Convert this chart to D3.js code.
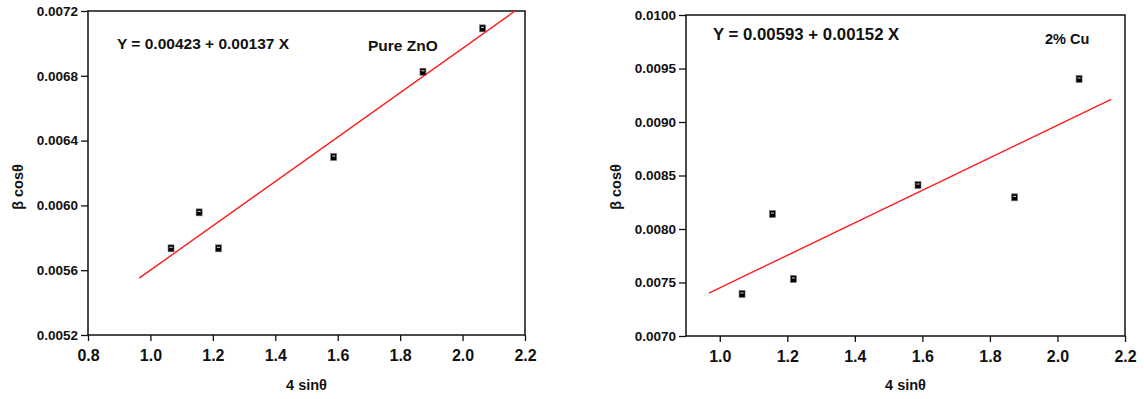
<!DOCTYPE html>
<html>
<head>
<meta charset="utf-8">
<script src="https://cdn.jsdelivr.net/npm/d3@7"></script>
<style>
  body { margin: 0; background: #fff; }
  svg { display: block; }
  text { font-family: "Liberation Sans", Arial, Helvetica, sans-serif; font-weight: bold; fill: #111; }
</style>
</head>
<body>
<div id="chart"></div>
<script>
// data
const xTitle = "4 sinθ";
const yTitle = "β cosθ";

const sinTheta = [1.066, 1.156, 1.218, 1.587, 1.873, 2.064];
const pureZnO = [0.005735, 0.005957, 0.005735, 0.006299, 0.006825, 0.007093];
const cu2 = [0.007393, 0.00814, 0.007533, 0.008411, 0.008296, 0.009402];

// fitted line end points
const znoFitX = [0.964, 2.168];
const znoFitY = [0.005551, 0.0072];
const cuFitX = [0.968, 2.159];
const cuFitY = [0.007401, 0.009212];

const znoXTicks = [0.8, 1.0, 1.2, 1.4, 1.6, 1.8, 2.0, 2.2];
const znoYTicks = [0.0052, 0.0056, 0.0060, 0.0064, 0.0068, 0.0072];
const cuXTicks = [1.0, 1.2, 1.4, 1.6, 1.8, 2.0, 2.2];
const cuYTicks = [0.0070, 0.0075, 0.0080, 0.0085, 0.0090, 0.0095, 0.0100];

const svg = d3.select("#chart").append("svg")
  .attr("width", 1144)
  .attr("height", 399);

svg.append("rect").attr("width", 1144).attr("height", 399).attr("fill", "#fff");

function drawPanel(p) {
  const x = d3.scaleLinear().domain(p.xDomain).range([p.left, p.right]);
  const y = d3.scaleLinear().domain(p.yDomain).range([p.bottom, p.top]);
  const g = svg.append("g");

  // y axis
  const yAxis = g.append("g")
    .attr("transform", "translate(" + p.left + ",0)")
    .call(d3.axisLeft(y).tickValues(p.yTicks).tickFormat(d3.format(".4f")).tickSizeOuter(0).tickSize(7).tickPadding(3));
  yAxis.selectAll("text").style("font-size", "13.5px").attr("fill", "#111");

  // x axis
  const xAxis = g.append("g")
    .attr("transform", "translate(0," + p.bottom + ")")
    .call(d3.axisBottom(x).tickValues(p.xTicks).tickFormat(d3.format(".1f")).tickSizeOuter(0).tickSize(6).tickPadding(9));
  xAxis.selectAll("text").style("font-size", "16px").attr("fill", "#111");

  g.selectAll(".domain").remove();
  g.selectAll(".tick line").attr("stroke", "#111").attr("stroke-width", 1.3);

  // frame
  g.append("rect")
    .attr("x", p.left).attr("y", p.top)
    .attr("width", p.right - p.left).attr("height", p.bottom - p.top)
    .attr("fill", "none").attr("stroke", "#111").attr("stroke-width", 1.5);

  // fit line
  const fit = p.fitX.map((d, i) => [d, p.fitY[i]]);
  g.append("path")
    .datum(fit)
    .attr("d", d3.line().x(d => x(d[0])).y(d => y(d[1])))
    .attr("fill", "none")
    .attr("stroke", "#ff1a1a")
    .attr("stroke-width", 1.4);

  // points
  const pts = p.xs.map((d, i) => [d, p.ys[i]]);
  g.selectAll(".pt")
    .data(pts)
    .enter()
    .append("rect")
    .attr("x", d => x(d[0]) - 3)
    .attr("y", d => y(d[1]) - 3.5)
    .attr("width", 6)
    .attr("height", 7)
    .attr("fill", "#000")
    .attr("stroke", "#777")
    .attr("stroke-width", 0.6);
  g.selectAll(".pt-hi")
    .data(pts)
    .enter()
    .append("rect")
    .attr("x", d => x(d[0]) - 1.5)
    .attr("y", d => y(d[1]) - 1.5)
    .attr("width", 3)
    .attr("height", 1)
    .attr("fill", "#ddd");

  // titles
  g.append("text")
    .attr("x", (p.left + p.right) / 2)
    .attr("y", 390)
    .attr("text-anchor", "middle")
    .style("font-size", "14.5px")
    .text(xTitle);
  g.append("text")
    .attr("transform", "translate(" + (p.left - 65) + ",187) rotate(-90)")
    .attr("text-anchor", "middle")
    .style("font-size", "14.5px")
    .text(yTitle);

  // annotations
  g.append("text")
    .attr("x", p.eq.x).attr("y", p.eq.y)
    .style("font-size", p.eq.size)
    .text(p.eq.text);
  g.append("text")
    .attr("x", p.tag.x).attr("y", p.tag.y)
    .style("font-size", p.tag.size)
    .text(p.tag.text);
}

drawPanel({
  left: 88, right: 525, top: 11, bottom: 335,
  xDomain: [0.8, 2.2], yDomain: [0.0052, 0.0072],
  xTicks: znoXTicks, yTicks: znoYTicks,
  xs: sinTheta, ys: pureZnO,
  fitX: znoFitX, fitY: znoFitY,
  eq: { x: 117, y: 49, size: "15.5px", text: "Y = 0.00423 + 0.00137 X" },
  tag: { x: 368, y: 51, size: "15.5px", text: "Pure ZnO" }
});

drawPanel({
  left: 686, right: 1125, top: 15, bottom: 336,
  xDomain: [0.9, 2.2], yDomain: [0.0070, 0.0100],
  xTicks: cuXTicks, yTicks: cuYTicks,
  xs: sinTheta, ys: cu2,
  fitX: cuFitX, fitY: cuFitY,
  eq: { x: 713, y: 40, size: "16.8px", text: "Y = 0.00593 + 0.00152 X" },
  tag: { x: 1045, y: 44, size: "14.5px", text: "2% Cu" }
});
</script>
</body>
</html>
